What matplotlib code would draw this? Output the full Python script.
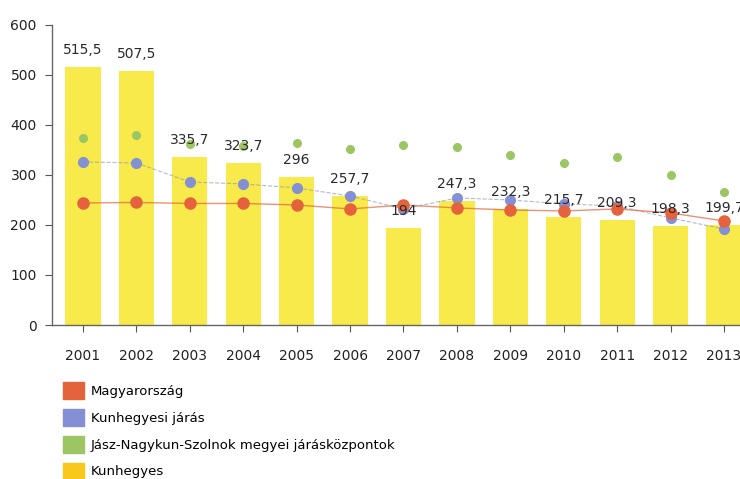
"""Kunhegyes compared with district, county centres and Hungary."""

import matplotlib
matplotlib.use('Agg')
import matplotlib.pyplot as plt
import matplotlib.patches as mpatches
import numpy as np

years = ['2001', '2002', '2003', '2004', '2005', '2006', '2007',
         '2008', '2009', '2010', '2011', '2012', '2013']
kunhegyes = [515.5, 507.5, 335.7, 323.7, 296, 257.7, 194,
             247.3, 232.3, 215.7, 209.3, 198.3, 199.7]
magyarorszag = [244, 245, 243, 243, 240, 232, 240, 234, 230, 228, 232, 224, 208]
kunhegyesi_jaras = [326, 324, 286, 282, 274, 258, 232, 254, 250, 242, 238, 214, 192]
jaraskozpontok = [374, 380, 362, 358, 364, 352, 360, 356, 340, 324, 336, 300, 266]
series_names = ['Magyarország', 'Kunhegyesi járás',
                'Jász-Nagykun-Szolnok megyei járásközpontok', 'Kunhegyes']

col_red = '#e4623c'
col_blue = '#8390d4'
col_green = '#9cc663'
col_bar = '#f7ea4a'
col_legend_bar = '#f8c81c'
fontsize = 10

fig = plt.figure(figsize=(7.4, 4.79), dpi=100)
ax = fig.add_axes([0.0703, 0.3215, 0.9297, 0.6265])

x = np.arange(len(years))
ax.bar(x, kunhegyes, width=0.66, color=col_bar, zorder=1)
for xi, v in zip(x, kunhegyes):
    label = ('%g' % v).replace('.', ',')
    ax.text(xi, v + 20, label, ha='center', va='bottom',
            fontsize=fontsize, color='#2a2a2a', zorder=5, clip_on=False)

ax.plot(x, jaraskozpontok, 'o', color=col_green, ms=5.5, zorder=2)
ax.plot(x, kunhegyesi_jaras, '--', color='#9a9ab8', lw=0.8, alpha=0.7, zorder=3)
ax.plot(x, kunhegyesi_jaras, 'o', color=col_blue, ms=7, zorder=3)
ax.plot(x, magyarorszag, '-', color=col_red, lw=1.0, alpha=0.7, zorder=4)
ax.plot(x, magyarorszag, 'o', color=col_red, ms=8, zorder=4)

ax.set_xlim(-0.58, 12.3)
ax.set_ylim(0, 600)
ax.set_yticks(np.arange(0, 700, 100))
ax.set_xticks(x)
ax.set_xticklabels(years)
ax.tick_params(axis='both', labelsize=fontsize, colors='#555555',
               labelcolor='#222222', length=5, width=0.8)
ax.tick_params(axis='x', pad=12)
ax.tick_params(axis='y', pad=6)
for side in ['top', 'right']:
    ax.spines[side].set_visible(False)
for side in ['left', 'bottom']:
    ax.spines[side].set_color('#666666')
    ax.spines[side].set_linewidth(1.0)

handles = [mpatches.Patch(color=c) for c in
           [col_red, col_blue, col_green, col_legend_bar]]
fig.legend(handles, series_names, loc='upper left',
           bbox_to_anchor=(0.085, 0.2025), frameon=False,
           fontsize=9.5, handlelength=1.6, handleheight=1.6,
           handletextpad=0.5, labelspacing=0.75, borderaxespad=0,
           borderpad=0)

fig.savefig('out.png', dpi=100)
